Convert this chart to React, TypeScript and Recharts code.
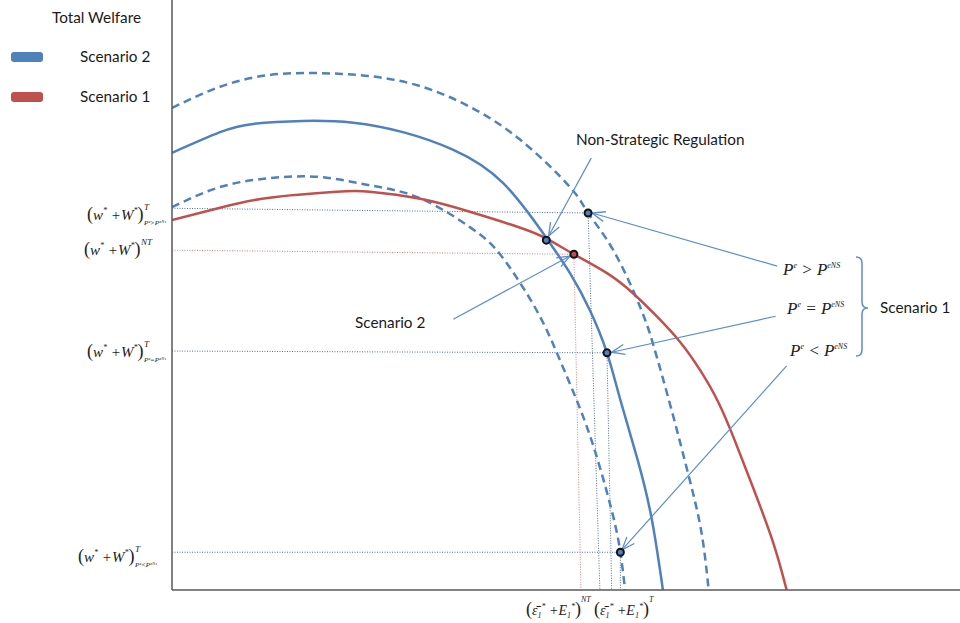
import React from 'react';
import { ComposedChart, Line, Scatter, XAxis, YAxis } from 'recharts';

// welfare frontiers, x = emissions, y = total welfare (both 0..100)
const upperDashed = [
  { x: 0, y: 81.7 }, { x: 6.1, y: 85.3 }, { x: 12.4, y: 87.3 }, { x: 18.8, y: 87.6 },
  { x: 25.1, y: 87.1 }, { x: 31.5, y: 85.4 }, { x: 37.8, y: 81.9 }, { x: 44.2, y: 76.3 },
  { x: 50.5, y: 68.3 }, { x: 52.8, y: 63.9 }, { x: 56.0, y: 57.6 }, { x: 59.4, y: 48.0 },
  { x: 61.2, y: 41.0 }, { x: 63.4, y: 30.5 }, { x: 65.6, y: 19.2 }, { x: 67.2, y: 9.7 },
  { x: 68.1, y: 0 },
];
const scenario2 = [
  { x: 0, y: 74.1 }, { x: 6.1, y: 77.6 }, { x: 10.3, y: 79.0 }, { x: 16.6, y: 79.5 },
  { x: 23.0, y: 79.2 }, { x: 29.3, y: 77.6 }, { x: 35.7, y: 74.6 }, { x: 42.0, y: 69.0 },
  { x: 47.6, y: 59.5 }, { x: 50.6, y: 53.5 }, { x: 53.0, y: 47.5 }, { x: 55.2, y: 40.2 },
  { x: 56.9, y: 32.2 }, { x: 59.1, y: 22.0 }, { x: 60.9, y: 11.9 }, { x: 62.3, y: 0 },
];
const lowerDashed = [
  { x: 0, y: 64.9 }, { x: 6.1, y: 68.3 }, { x: 12.4, y: 69.8 }, { x: 18.8, y: 70.0 },
  { x: 25.1, y: 68.6 }, { x: 31.5, y: 66.4 }, { x: 37.8, y: 61.5 }, { x: 41.2, y: 57.6 },
  { x: 44.2, y: 52.0 }, { x: 47.1, y: 45.3 }, { x: 49.6, y: 37.8 }, { x: 52.2, y: 29.3 },
  { x: 54.3, y: 20.8 }, { x: 56.0, y: 12.4 }, { x: 56.9, y: 6.4 }, { x: 57.5, y: 0 },
];
const scenario1 = [
  { x: 0, y: 62.7 }, { x: 6.1, y: 64.8 }, { x: 12.4, y: 66.5 }, { x: 20.9, y: 67.5 },
  { x: 25.1, y: 67.5 }, { x: 31.5, y: 66.3 }, { x: 37.8, y: 64.1 }, { x: 44.2, y: 61.4 },
  { x: 47.6, y: 59.5 }, { x: 51.0, y: 56.9 }, { x: 55.2, y: 53.7 }, { x: 58.5, y: 50.3 },
  { x: 61.5, y: 46.4 }, { x: 64.5, y: 42.0 }, { x: 67.0, y: 37.3 }, { x: 69.3, y: 31.9 },
  { x: 71.4, y: 25.4 }, { x: 73.7, y: 17.5 }, { x: 76.3, y: 8.0 }, { x: 78.0, y: 0 },
];

const equilibria = [
  { x: 47.5, y: 59.3, fill: '#4f81bd' },
  { x: 51.0, y: 56.9, fill: '#c0504d' },
  { x: 52.8, y: 63.9, fill: '#4f81bd' },
  { x: 55.2, y: 40.2, fill: '#4f81bd' },
  { x: 56.9, y: 6.4, fill: '#4f81bd' },
];

// dotted projections onto the axes
const guidesBlue = [
  [{ x: 0, y: 64.7 }, { x: 52.8, y: 63.9 }],
  [{ x: 52.8, y: 63.9 }, { x: 54.3, y: 0 }],
  [{ x: 0, y: 40.5 }, { x: 55.2, y: 40.2 }],
  [{ x: 55.2, y: 40.2 }, { x: 55.8, y: 0 }],
  [{ x: 0, y: 6.4 }, { x: 56.9, y: 6.4 }],
  [{ x: 56.9, y: 6.4 }, { x: 56.9, y: 0 }],
];
const guidesRed = [
  [{ x: 0, y: 57.6 }, { x: 51.0, y: 56.9 }],
  [{ x: 51.0, y: 56.9 }, { x: 51.9, y: 0 }],
];

// callout arrows, tail first then tip
const arrows = [
  [{ x: 53.2, y: 73.2 }, { x: 47.8, y: 60.0 }],
  [{ x: 76.8, y: 54.9 }, { x: 53.3, y: 63.9 }],
  [{ x: 35.7, y: 45.9 }, { x: 50.5, y: 56.6 }],
  [{ x: 76.6, y: 46.4 }, { x: 55.8, y: 40.3 }],
  [{ x: 78.0, y: 38.0 }, { x: 57.1, y: 6.8 }],
];

const yTicks = [64.7, 57.6, 40.5, 6.4];
const yLabels = [
  { x: 87, dy: 12, sup: 'T', sub: 'Pᵉ>Pᵉᴺˢ' },
  { x: 84, dy: 5, sup: 'NT', sub: '' },
  { x: 87, dy: 6, sup: 'T', sub: 'Pᵉ=Pᵉᴺˢ' },
  { x: 78, dy: 10, sup: 'T', sub: 'Pᵉ<Pᵉᴺˢ' },
];
const xTicks = [51.9, 54.3];
const xLabels = [
  { dx: -55, sup: 'NT' },
  { dx: -6, sup: 'T' },
];

const BLUE = '#4f81bd';
const RED = '#c0504d';
const ARROW = '#5b8dd0';
const serif = { fontFamily: '"Liberation Serif", serif', fontStyle: 'italic' as const, fill: '#222' };
const sans = { fontFamily: 'Lato, sans-serif', fontSize: 15.3, fill: '#1a1a1a' };

function WelfareTick(props: any) {
  const i = yTicks.indexOf(props.payload.value);
  const cfg = yLabels[i];
  if (!cfg) return null;
  const y = props.y + cfg.dy;
  return (
    <g>
      <text x={cfg.x} y={y} fontSize={15} {...serif}>
        <tspan fontSize={18} fontStyle="normal">(</tspan>
        <tspan>w</tspan>
        <tspan fontSize={8} dy={-7}>*</tspan>
        <tspan dy={7}> +W</tspan>
        <tspan fontSize={8} dy={-7}>*</tspan>
        <tspan dy={7} fontSize={18} fontStyle="normal">)</tspan>
      </text>
      <text x={cfg.x + 57} y={y - 10} fontSize={9} {...serif}>{cfg.sup}</text>
      {cfg.sub && <text x={cfg.x + 57} y={y + 5} fontSize={7} {...serif}>{cfg.sub}</text>}
    </g>
  );
}

function EmissionTick(props: any) {
  const i = xTicks.indexOf(props.payload.value);
  const cfg = xLabels[i];
  if (!cfg) return null;
  const x = props.x + cfg.dx;
  return (
    <g>
      <text x={x} y={615} fontSize={14} {...serif}>
        <tspan fontSize={18} fontStyle="normal">(</tspan>
        <tspan>ε̄</tspan>
        <tspan fontSize={8} dy={3}>1</tspan>
        <tspan fontSize={8} dy={-9}>*</tspan>
        <tspan dy={6}> +E</tspan>
        <tspan fontSize={8} dy={3}>1</tspan>
        <tspan fontSize={8} dy={-9}>*</tspan>
        <tspan dy={6} fontSize={18} fontStyle="normal">)</tspan>
      </text>
      <text x={x + 55} y={602} fontSize={8} {...serif}>{cfg.sup}</text>
    </g>
  );
}

function Marker(props: any) {
  return <circle cx={props.cx} cy={props.cy} r={3.5} fill={props.payload.fill} stroke="#111" strokeWidth={2} />;
}

function Comparison({ x, y, op }: { x: number; y: number; op: string }) {
  return (
    <text x={x} y={y} fontSize={17} {...serif}>
      <tspan>P</tspan>
      <tspan fontSize={8} dy={-7}>e</tspan>
      <tspan dy={7}>{` ${op} P`}</tspan>
      <tspan fontSize={8} dy={-7}>eNS</tspan>
    </text>
  );
}

export default function App() {
  return (
    <div style={{ position: 'absolute', left: 0, top: 0, width: 960, height: 623, background: '#fff' }}>
      <ComposedChart width={960} height={623} margin={{ top: 0, right: 0, left: 0, bottom: 0 }}>
        <defs>
          <marker id="arrowHead" markerWidth="15" markerHeight="12" refX="14" refY="6" orient="auto" markerUnits="userSpaceOnUse">
            <path d="M1,1 L14,6 L1,11" fill="none" stroke={ARROW} strokeWidth={1.3} />
          </marker>
        </defs>
        <XAxis type="number" dataKey="x" domain={[0, 100]} ticks={xTicks} interval={0} tick={<EmissionTick />} tickLine={false}
          height={33} axisLine={{ stroke: '#595959', strokeWidth: 1.5 }} allowDataOverflow />
        <YAxis type="number" dataKey="y" domain={[0, 100]} ticks={yTicks} interval={0} tick={<WelfareTick />} tickLine={false}
          width={172} axisLine={{ stroke: '#595959', strokeWidth: 1.5 }} allowDataOverflow />

        {guidesBlue.map((g, i) => (
          <Line key={'gb' + i} data={g} dataKey="y" type="linear" stroke="#4a6ea8" strokeWidth={1}
            strokeDasharray="1 1.5" dot={false} activeDot={false} isAnimationActive={false} />
        ))}
        {guidesRed.map((g, i) => (
          <Line key={'gr' + i} data={g} dataKey="y" type="linear" stroke="#e07a7a" strokeWidth={1}
            strokeDasharray="1 1.5" dot={false} activeDot={false} isAnimationActive={false} />
        ))}

        <Line data={upperDashed} dataKey="y" type="natural" stroke={BLUE} strokeWidth={2.5} strokeDasharray="8 5"
          dot={false} activeDot={false} isAnimationActive={false} />
        <Line data={lowerDashed} dataKey="y" type="natural" stroke={BLUE} strokeWidth={2.5} strokeDasharray="8 5"
          dot={false} activeDot={false} isAnimationActive={false} />
        <Line data={scenario1} dataKey="y" type="natural" stroke={RED} strokeWidth={2.5}
          dot={false} activeDot={false} isAnimationActive={false} />
        <Line data={scenario2} dataKey="y" type="natural" stroke={BLUE} strokeWidth={2.5}
          dot={false} activeDot={false} isAnimationActive={false} />

        {arrows.map((a, i) => (
          <Line key={'ar' + i} data={a} dataKey="y" type="linear" stroke={ARROW} strokeWidth={1.2}
            markerEnd="url(#arrowHead)" dot={false} activeDot={false} isAnimationActive={false} />
        ))}

        <Scatter data={equilibria} dataKey="y" shape={<Marker />} isAnimationActive={false} />

        {/* legend */}
        <text x={52} y={23} {...sans}>Total Welfare</text>
        <rect x={11} y={52} width={32} height={10} rx={3} fill={BLUE} />
        <text x={80} y={62} {...sans}>Scenario 2</text>
        <rect x={11} y={92} width={32} height={10} rx={3} fill={RED} />
        <text x={80} y={102} {...sans}>Scenario 1</text>

        {/* annotations */}
        <text x={576} y={145} {...sans}>Non-Strategic Regulation</text>
        <text x={355} y={328} {...sans}>Scenario 2</text>
        <Comparison x={783} y={275} op=">" />
        <Comparison x={787} y={314} op="=" />
        <Comparison x={790} y={356} op="<" />
        <path d="M856,257 Q862,257 862,263 L862,302 Q862,308 868,308 Q862,308 862,314 L862,350 Q862,356 856,356"
          fill="none" stroke={ARROW} strokeWidth={1.5} />
        <text x={880} y={313} {...sans}>Scenario 1</text>
      </ComposedChart>
    </div>
  );
}
